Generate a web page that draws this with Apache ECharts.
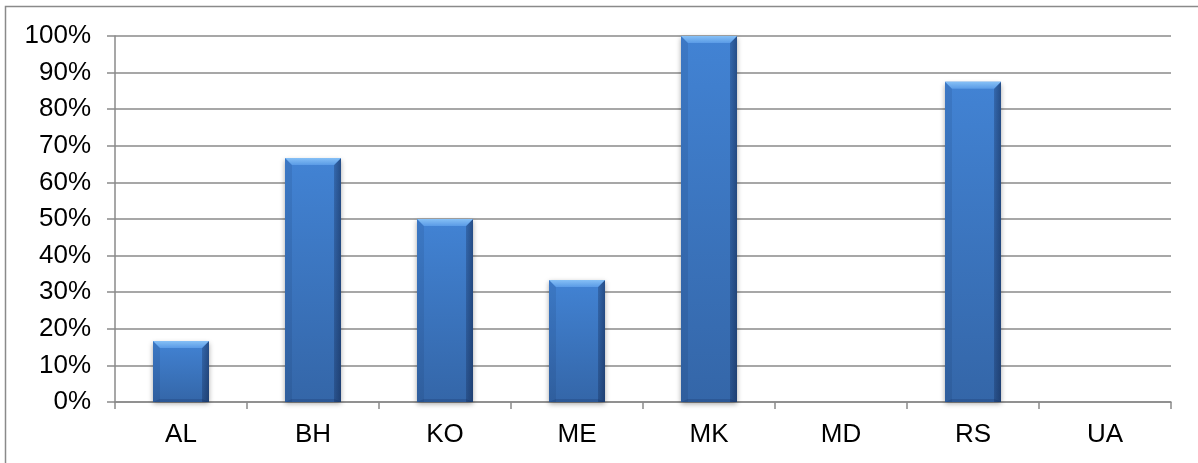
<!DOCTYPE html>
<html>
<head>
<meta charset="utf-8">
<style>
html,body{margin:0;padding:0;background:#fff;}
#chart{width:1198px;height:463px;}
</style>
<script src="https://cdn.jsdelivr.net/npm/echarts@6/dist/echarts.min.js"></script>
</head>
<body>
<div id="chart"></div>
<script>
var categories = ['AL', 'BH', 'KO', 'ME', 'MK', 'MD', 'RS', 'UA'];
var values = [0.1667, 0.6667, 0.5, 0.3333, 1.0, 0, 0.875, 0];

var chart = echarts.init(document.getElementById('chart'), null, {renderer: 'canvas'});
var font = '"Liberation Sans", Arial, sans-serif';
var BAR_W = 56;
var BEV = 7;

function renderBevel(params, api) {
  var v = api.value(1);
  if (!(v > 0)) return null;
  var top = api.coord([api.value(0), v]);
  var base = api.coord([api.value(0), 0]);
  var xl = top[0] - BAR_W / 2, xr = top[0] + BAR_W / 2;
  var yt = top[1], yb = base[1];
  var b = Math.min(BEV, (yb - yt) / 2);
  return {
    type: 'group',
    children: [{
      type: 'polygon',
      shape: {points: [[xl, yt], [xl + b, yt + b], [xl + b, yb], [xl, yb]]},
      style: {fill: 'rgba(10,30,70,0.10)'}
    }, {
      type: 'polygon',
      shape: {points: [[xr, yt], [xr - b, yt + b], [xr - b, yb], [xr, yb]]},
      style: {fill: new echarts.graphic.LinearGradient(0, 0, 1, 0, [
        {offset: 0, color: 'rgba(10,25,60,0.25)'},
        {offset: 1, color: 'rgba(10,25,60,0.50)'}
      ])}
    }, {
      type: 'polygon',
      shape: {points: [[xl, yt], [xr, yt], [xr - b, yt + b], [xl + b, yt + b]]},
      style: {fill: new echarts.graphic.LinearGradient(0, 0, 0, 1, [
        {offset: 0, color: '#86c0f6'},
        {offset: 1, color: '#5a9be6'}
      ])}
    }, {
      type: 'polygon',
      shape: {points: [[xl + b, yb - 3], [xr - b, yb - 3], [xr, yb], [xl, yb]]},
      style: {fill: 'rgba(10,30,70,0.18)'}
    }]
  };
}

var option = {
  animation: false,
  backgroundColor: '#ffffff',
  graphic: [{
    type: 'rect',
    shape: {x: 5.5, y: 6.5, width: 1300, height: 600},
    style: {fill: 'none', stroke: '#8a8a8a', lineWidth: 1.5},
    silent: true
  }],
  grid: {left: 115, right: 27, top: 36, bottom: 61, containLabel: false},
  xAxis: {
    type: 'category',
    data: categories,
    boundaryGap: true,
    axisLine: {lineStyle: {color: '#8a8a8a', width: 1.5}},
    axisTick: {show: true, length: 7, alignWithLabel: false, lineStyle: {color: '#8a8a8a', width: 1.5}},
    axisLabel: {color: '#000', fontSize: 26, fontFamily: font, margin: 20}
  },
  yAxis: {
    type: 'value',
    min: 0, max: 1, interval: 0.1,
    axisLine: {show: true, lineStyle: {color: '#8a8a8a', width: 1.5}},
    axisTick: {show: true, length: 8, lineStyle: {color: '#8a8a8a', width: 1.5}},
    splitLine: {show: true, lineStyle: {color: '#8a8a8a', width: 1.5}},
    axisLabel: {
      color: '#000', fontSize: 26, fontFamily: font, margin: 24,
      formatter: function (v) { return Math.round(v * 100) + '%'; }
    }
  },
  series: [{
    type: 'bar',
    data: values,
    barWidth: BAR_W,
    z: 2,
    itemStyle: {
      color: new echarts.graphic.LinearGradient(0, 0, 0, 1, [
        {offset: 0, color: '#4283d4'},
        {offset: 1, color: '#3466a8'}
      ]),
      shadowColor: 'rgba(0,0,0,0.35)',
      shadowBlur: 5,
      shadowOffsetY: 2
    }
  }, {
    type: 'custom',
    silent: true,
    z: 3,
    renderItem: renderBevel,
    data: values.map(function (v, i) { return [i, v]; })
  }]
};
chart.setOption(option);
</script>
</body>
</html>
